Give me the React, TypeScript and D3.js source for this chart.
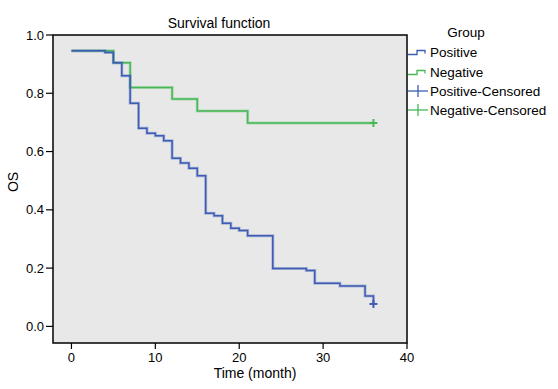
import * as d3 from 'd3';

const W = 558;
const H = 389;

// Kaplan-Meier steps (time in months, survival)
const positiveTimes = [0, 4, 5, 6, 7, 8, 9, 10, 11, 12, 13, 14, 15, 16, 17, 18, 19, 20, 21, 24, 28, 29, 32, 35, 36];
const positiveSurv = [0.946, 0.94, 0.905, 0.86, 0.766, 0.68, 0.663, 0.654, 0.637, 0.577, 0.561, 0.543, 0.517, 0.388, 0.38, 0.354, 0.337, 0.329, 0.311, 0.199, 0.192, 0.148, 0.139, 0.104, 0.077];
const negativeTimes = [0, 5, 7, 12, 15, 21, 36];
const negativeSurv = [0.946, 0.905, 0.82, 0.78, 0.739, 0.698, 0.698];

const positiveCensored = [[36, 0.077]];
const negativeCensored = [[36, 0.698]];

const xTicks = [0, 10, 20, 30, 40];
const yTicks = [0, 0.2, 0.4, 0.6, 0.8, 1.0];
const legendLabels = ['Positive', 'Negative', 'Positive-Censored', 'Negative-Censored'];

const BLUE = '#3d5cb4';
const GREEN = '#46b856';
const FONT = '"Liberation Sans", Arial, sans-serif';

export default function App() {
  const plot = { left: 53, right: 407, top: 35, bottom: 343 };
  const x = d3.scaleLinear().domain([-2.2, 40]).range([plot.left, plot.right]);
  const y = d3.scaleLinear().domain([-0.057, 1.0]).range([plot.bottom, plot.top]);

  const line = d3
    .line<[number, number]>()
    .x((d) => x(d[0]))
    .y((d) => y(d[1]))
    .curve(d3.curveStepAfter);

  const posPts = positiveTimes.map((t, i) => [t, positiveSurv[i]] as [number, number]);
  const negPts = negativeTimes.map((t, i) => [t, negativeSurv[i]] as [number, number]);

  const series = [
    { pts: negPts, color: GREEN },
    { pts: posPts, color: BLUE },
  ];

  const cross = (cx: number, cy: number, color: string, key: string) => (
    <g key={key} stroke={color} strokeWidth={2}>
      <line x1={cx - 4} x2={cx + 4} y1={cy} y2={cy} />
      <line x1={cx} x2={cx} y1={cy - 4} y2={cy + 4} />
    </g>
  );

  const legendX = 408;
  const rowY = [52, 72, 91, 110];
  const legendColors = [BLUE, GREEN, BLUE, GREEN];

  return (
    <div style={{ position: 'fixed', left: 0, top: 0 }}>
      <svg width={W} height={H} style={{ display: 'block', background: '#fff' }} fontFamily={FONT}>
        <rect
          x={plot.left}
          y={plot.top}
          width={plot.right - plot.left}
          height={plot.bottom - plot.top}
          fill="#e8e8e8"
        />

        {series.map((s, i) => (
          <g key={i} fill="none">
            <path d={line(s.pts) ?? ''} stroke={s.color} strokeOpacity={0.35} strokeWidth={3} />
            <path d={line(s.pts) ?? ''} stroke={s.color} strokeWidth={1.5} />
          </g>
        ))}

        {positiveCensored.map((d, i) => cross(x(d[0]), y(d[1]), BLUE, 'pc' + i))}
        {negativeCensored.map((d, i) => cross(x(d[0]), y(d[1]), GREEN, 'nc' + i))}

        <rect
          x={plot.left}
          y={plot.top}
          width={plot.right - plot.left}
          height={plot.bottom - plot.top}
          fill="none"
          stroke="#000"
          strokeWidth={1.5}
        />

        {/* y axis */}
        {yTicks.map((t) => (
          <g key={t}>
            <line x1={plot.left - 7} x2={plot.left} y1={y(t)} y2={y(t)} stroke="#000" strokeWidth={1.2} />
            <text x={plot.left - 9} y={y(t) + 4.5} textAnchor="end" fontSize={13} fill="#000">
              {t.toFixed(1)}
            </text>
          </g>
        ))}
        <text
          transform={`translate(18,182) rotate(-90)`}
          textAnchor="middle"
          fontSize={14}
          fill="#000"
        >
          OS
        </text>

        {/* x axis */}
        {xTicks.map((t) => (
          <g key={t}>
            <line x1={x(t)} x2={x(t)} y1={plot.bottom} y2={plot.bottom + 6} stroke="#000" strokeWidth={1.2} />
            <text x={x(t)} y={plot.bottom + 19} textAnchor="middle" fontSize={13} fill="#000">
              {t}
            </text>
          </g>
        ))}
        <text x={255} y={378} textAnchor="middle" fontSize={14} fill="#000">
          Time (month)
        </text>

        <text x={219} y={28} textAnchor="middle" fontSize={14} fill="#000">
          Survival function
        </text>

        {/* legend */}
        <text x={466} y={37} textAnchor="middle" fontSize={13.5} fill="#000">
          Group
        </text>
        {legendLabels.map((label, i) => {
          const cy = rowY[i];
          const c = legendColors[i];
          return (
            <g key={label}>
              {i < 2 ? (
                <path
                  d={`M${legendX},${cy + 2.5}H${legendX + 9}V${cy - 1.5}H${legendX + 17}V${cy + 1.5}`}
                  fill="none"
                  stroke={c}
                  strokeWidth={1.3}
                />
              ) : (
                <g stroke={c} strokeWidth={1.3}>
                  <line x1={legendX} x2={legendX + 20} y1={cy} y2={cy} />
                  <line x1={legendX + 10} x2={legendX + 10} y1={cy - 6} y2={cy + 6} />
                </g>
              )}
              <text x={430} y={cy + 5} fontSize={13.5} fill="#000">
                {label}
              </text>
            </g>
          );
        })}
      </svg>
    </div>
  );
}
